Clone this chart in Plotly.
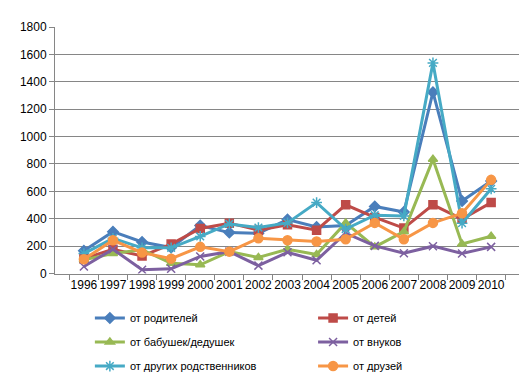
import plotly.graph_objects as go

years = ["1996", "1997", "1998", "1999", "2000", "2001", "2002", "2003",
         "2004", "2005", "2006", "2007", "2008", "2009", "2010"]

parents = [167, 306, 231, 190, 350, 299, 294, 394, 340, 350, 490, 449, 1324, 529, 675]
children = [109, 178, 128, 215, 329, 368, 317, 356, 317, 502, 410, 332, 502, 398, 518]
grandparents = [100, 146, 174, 76, 64, 160, 118, 178, 139, 370, 195, 306, 834, 216, 272]
grandchildren = [51, 178, 28, 35, 125, 160, 58, 155, 97, 295, 202, 149, 200, 146, 195]
relatives = [146, 257, 188, 188, 271, 362, 336, 370, 518, 325, 426, 421, 1538, 368, 619]
friends = [104, 243, 153, 109, 195, 160, 257, 243, 234, 250, 370, 250, 370, 440, 684]

series = [
    ("от родителей", parents, "#4A7EBB", "diamond", 8, "legend"),
    ("от детей", children, "#BE4B48", "square", 8, "legend2"),
    ("от бабушек/дедушек", grandparents, "#98B954", "triangle-up", 8, "legend"),
    ("от внуков", grandchildren, "#7D60A0", "x-thin-open", 8, "legend2"),
    ("от других родственников", relatives, "#46AAC5", "asterisk-open", 9, "legend"),
    ("от друзей", friends, "#F79646", "circle", 9, "legend2"),
]

fig = go.Figure()
for name, vals, color, sym, size, leg in series:
    fig.add_trace(go.Scatter(
        x=years, y=vals, name=name, mode="lines+markers",
        legend=leg, legendgroup=name,
        line=dict(color=color, width=3),
        marker=dict(symbol=sym, size=size, color=color,
                    line=dict(color=color, width=1.5)),
    ))

leg_common = dict(
    orientation="v", xref="paper", yref="container",
    xanchor="left", yanchor="top", y=0.216,
    font=dict(size=11), tracegroupgap=5, itemwidth=30,
    bgcolor="rgba(0,0,0,0)",
)

fig.update_layout(
    width=527, height=377,
    margin=dict(l=45, r=15, t=15, b=28),
    paper_bgcolor="white", plot_bgcolor="white",
    font=dict(family="Liberation Sans, Arial, sans-serif", size=12, color="#000000"),
    showlegend=True,
    legend=dict(leg_common, x=0.075),
    legend2=dict(leg_common, x=0.555),
    xaxis=dict(
        type="category", showgrid=False, showline=True, linecolor="#868686",
        linewidth=1, ticks="outside", tickson="boundaries", ticklen=5,
        tickcolor="#868686", tickfont=dict(size=12), tickangle=0,
    ),
    yaxis=dict(
        range=[0, 1800], dtick=200, showgrid=True, gridcolor="#868686",
        gridwidth=1, showline=True, linecolor="#868686", linewidth=1,
        ticks="outside", ticklen=5, tickcolor="#868686", zeroline=False,
        tickfont=dict(size=12),
    ),
)

fig.write_html("out.html")
